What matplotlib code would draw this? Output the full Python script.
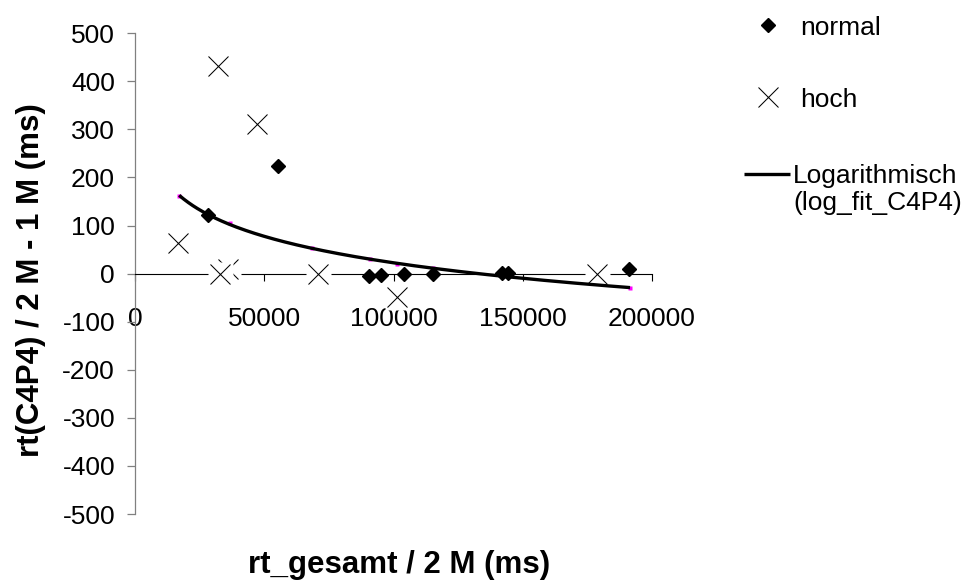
import numpy as np
import matplotlib
matplotlib.use("Agg")
import matplotlib.pyplot as plt
from matplotlib.lines import Line2D

plt.rcParams['font.family'] = ['Liberation Sans', 'DejaVu Sans']

# series "normal" (diamonds)
normal_x = [28100, 55200, 90600, 95000, 104200, 115400, 141900, 144400, 191000]
normal_y = [122, 224, -5, -3, -1, -1, 1, 1, 9]

# series "hoch" (crosses)
hoch_x = [16750, 32200, 36100, 32900, 47300, 70700, 101200, 178600]
hoch_y = [64, 432, 9, 0, 311, 0, -49, 0]

# series log_fit_C4P4 (points under the trendline)
fit_x = [17100, 36750, 68350, 90900, 101200, 115400, 191500]
fit_y = [161, 105, 53, 30, 20, 11, -29]

x_ticks = [0, 50000, 100000, 150000, 200000]
y_ticks = [500, 400, 300, 200, 100, 0, -100, -200, -300, -400, -500]

W, H = 968, 582
fig = plt.figure(figsize=(W / 100, H / 100), dpi=100)
ax = fig.add_axes([135 / W, 1 - 514 / H, 517 / W, (514 - 33.2) / H])


def fxy(px, py):
    return px / W, 1 - py / H


ax.set_xlim(0, 200000)
ax.set_ylim(-500, 500)
ax.set_xticks(x_ticks)
ax.set_yticks(y_ticks)
ax.set_xticklabels([str(v) for v in x_ticks])
ax.set_yticklabels([str(v) for v in y_ticks])

ax.spines['top'].set_visible(False)
ax.spines['right'].set_visible(False)
ax.spines['bottom'].set_position(('data', 0))
ax.spines['bottom'].set_color('black')
ax.spines['bottom'].set_linewidth(0.8)
ax.spines['left'].set_color('#808080')
ax.spines['left'].set_linewidth(0.9)

ax.tick_params(axis='x', direction='out', length=4.8, width=0.8, color='black',
               pad=19, labelsize=19)
ax.tick_params(axis='y', direction='out', length=6, width=0.9, color='#808080',
               pad=8.4, labelsize=19)

# hoch: white box behind each cross, drawn point by point
for i, (x, y) in enumerate(zip(hoch_x, hoch_y)):
    ax.plot(x, y, marker='s', ms=18, color='white', mec='none', ls='none',
            zorder=3 + 0.02 * i, clip_on=False)
    ax.plot(x, y, marker='x', ms=14.4, mew=0.75, color='black', ls='none',
            zorder=3.01 + 0.02 * i, clip_on=False)

# log fit series + logarithmic trendline
ax.plot(fit_x, fit_y, marker='s', ms=3, color='#ff00ff', mec='none', ls='none',
        zorder=4.5, clip_on=False)
b, a = np.polyfit(np.log(fit_x), fit_y, 1)
xs = np.linspace(min(fit_x), max(fit_x), 300)
ax.plot(xs, a + b * np.log(xs), color='black', lw=2.4, zorder=5,
        solid_capstyle='butt', clip_on=False)

ax.plot(normal_x, normal_y, marker='D', ms=7, color='black', ls='none',
        zorder=6, clip_on=False)

# axis titles
fig.text(*fxy(248, 573.5), 'rt_gesamt / 2 M (ms)', fontsize=22.5,
         fontweight='bold', ha='left', va='baseline')
fig.text(*fxy(31.5, 457), 'rt(C4P4) / 2 M - 1 M (ms)', fontsize=22.5,
         fontweight='bold', rotation=90, ha='center', va='bottom')

# legend
fig.add_artist(Line2D(*zip(fxy(768.3, 25)), marker='D', ms=7, color='black',
                      ls='none', transform=fig.transFigure))
fig.text(*fxy(800, 35), 'normal', fontsize=19, ha='left', va='baseline')
fig.add_artist(Line2D(*zip(fxy(768.3, 96.7)), marker='x', ms=14.4, mew=0.75,
                      color='black', ls='none', transform=fig.transFigure))
fig.text(*fxy(800, 106.7), 'hoch', fontsize=19, ha='left', va='baseline')
p0, p1 = fxy(744, 173.7), fxy(790, 173.7)
fig.add_artist(Line2D([p0[0], p1[0]], [p0[1], p1[1]], color='black', lw=2.4,
                      solid_capstyle='butt', transform=fig.transFigure))
fig.text(*fxy(793, 183), 'Logarithmisch', fontsize=19, ha='left', va='baseline')
fig.text(*fxy(793, 210), '(log_fit_C4P4)', fontsize=19, ha='left', va='baseline')

fig.savefig('out.png', dpi=100)
